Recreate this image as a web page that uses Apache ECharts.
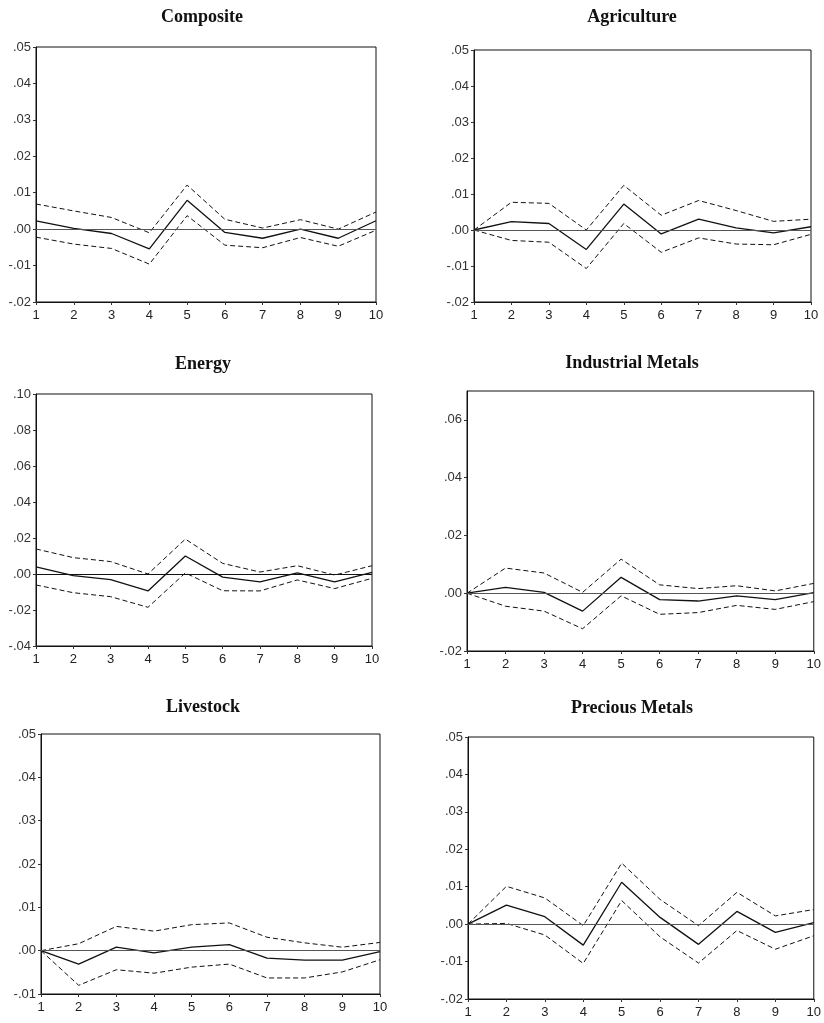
<!DOCTYPE html>
<html>
<head>
<meta charset="utf-8">
<script src="https://cdn.jsdelivr.net/npm/echarts@6/dist/echarts.min.js"></script>
<style>
  html, body { margin: 0; padding: 0; background: #fff; }
  #chart { width: 824px; height: 1023px; }
</style>
</head>
<body>
<div id="chart"></div>
<script>
var periods = ['1', '2', '3', '4', '5', '6', '7', '8', '9', '10'];

var titles = ['Composite', 'Agriculture', 'Energy', 'Industrial Metals', 'Livestock', 'Precious Metals'];

// impulse response (solid) and +/- 2 s.e. bands (dashed)
var compositeMid = [0.0023, 0.0002, -0.0012, -0.0054, 0.0079, -0.0009, -0.0025, 0.0000, -0.0025, 0.0023];
var compositeUp  = [0.0069, 0.0050, 0.0032, -0.0010, 0.0121, 0.0027, 0.0003, 0.0026, 0.0000, 0.0047];
var compositeLo  = [-0.0022, -0.0041, -0.0053, -0.0096, 0.0037, -0.0044, -0.0051, -0.0023, -0.0047, -0.0003];

var agricultureMid = [0.0000, 0.0023, 0.0018, -0.0054, 0.0072, -0.0011, 0.0030, 0.0006, -0.0008, 0.0009];
var agricultureUp  = [0.0000, 0.0077, 0.0074, 0.0000, 0.0124, 0.0041, 0.0082, 0.0054, 0.0024, 0.0030];
var agricultureLo  = [0.0000, -0.0029, -0.0034, -0.0107, 0.0018, -0.0062, -0.0022, -0.0039, -0.0041, -0.0012];

var energyMid = [0.0039, -0.0009, -0.0031, -0.0094, 0.0100, -0.0017, -0.0044, 0.0006, -0.0044, 0.0009];
var energyUp  = [0.0139, 0.0091, 0.0069, 0.0000, 0.0194, 0.0059, 0.0011, 0.0046, -0.0006, 0.0046];
var energyLo  = [-0.0061, -0.0104, -0.0126, -0.0185, 0.0006, -0.0093, -0.0094, -0.0033, -0.0081, -0.0024];

var indMetalsMid = [0.0000, 0.0020, 0.0003, -0.0062, 0.0055, -0.0022, -0.0027, -0.0009, -0.0022, 0.0002];
var indMetalsUp  = [0.0000, 0.0087, 0.0070, 0.0003, 0.0118, 0.0029, 0.0016, 0.0026, 0.0008, 0.0034];
var indMetalsLo  = [0.0000, -0.0045, -0.0062, -0.0123, -0.0009, -0.0073, -0.0067, -0.0042, -0.0056, -0.0029];

var livestockMid = [0.0000, -0.0031, 0.0008, -0.0005, 0.0008, 0.0014, -0.0017, -0.0022, -0.0022, -0.0002];
var livestockUp  = [0.0000, 0.0016, 0.0056, 0.0045, 0.0060, 0.0064, 0.0031, 0.0018, 0.0008, 0.0019];
var livestockLo  = [0.0000, -0.0080, -0.0044, -0.0052, -0.0038, -0.0031, -0.0063, -0.0063, -0.0049, -0.0021];

var preciousMid = [0.0000, 0.0051, 0.0020, -0.0056, 0.0112, 0.0018, -0.0054, 0.0034, -0.0022, 0.0004];
var preciousUp  = [0.0000, 0.0101, 0.0070, -0.0004, 0.0163, 0.0066, -0.0004, 0.0085, 0.0022, 0.0039];
var preciousLo  = [0.0000, 0.0002, -0.0029, -0.0105, 0.0063, -0.0034, -0.0104, -0.0017, -0.0067, -0.0031];

// y axis ranges: [min, max, interval]
var yRanges = [
  [-0.02, 0.05, 0.01],
  [-0.02, 0.05, 0.01],
  [-0.04, 0.10, 0.02],
  [-0.02, 0.07, 0.02],
  [-0.01, 0.05, 0.01],
  [-0.02, 0.05, 0.01]
];

var panels = [
  [compositeMid, compositeUp, compositeLo],
  [agricultureMid, agricultureUp, agricultureLo],
  [energyMid, energyUp, energyLo],
  [indMetalsMid, indMetalsUp, indMetalsLo],
  [livestockMid, livestockUp, livestockLo],
  [preciousMid, preciousUp, preciousLo]
];

// layout of each panel (px)
var boxes = [
  {left: 36,  top: 47,  width: 340, height: 255, tx: 197, ty: 3},
  {left: 474, top: 50,  width: 337, height: 252, tx: 627, ty: 3},
  {left: 36,  top: 394, width: 336, height: 252, tx: 198, ty: 350},
  {left: 467, top: 391, width: 347, height: 260, tx: 627, ty: 349},
  {left: 41,  top: 734, width: 339, height: 260, tx: 198, ty: 693},
  {left: 468, top: 737, width: 349, height: 262, tx: 627, ty: 694}
];

function fmt(v) {
  var s = Math.abs(v).toFixed(2).replace(/^0/, '');
  return (v < -1e-9 ? '-' : '') + s;
}

var chart = echarts.init(document.getElementById('chart'), null, {renderer: 'canvas'});

var grids = [], xAxes = [], yAxes = [], series = [], titleList = [];

for (var i = 0; i < 6; i++) {
  var b = boxes[i];
  grids.push({
    left: b.left, top: b.top, width: b.width, height: b.height,
    show: true, borderColor: '#111', borderWidth: 1, backgroundColor: '#fff'
  });
  titleList.push({
    text: titles[i], left: b.tx, top: b.ty, textAlign: 'center',
    textStyle: {fontFamily: 'Liberation Serif', fontWeight: 'bold', fontSize: 18, color: '#111'}
  });
  xAxes.push({
    gridIndex: i, type: 'category', data: periods, boundaryGap: false,
    axisLine: {onZero: false, lineStyle: {color: '#111', width: 1}},
    axisTick: {show: true, length: 3, lineStyle: {color: '#333'}},
    axisLabel: {fontFamily: 'Liberation Sans', fontSize: 13, color: '#222', margin: 7}
  });
  yAxes.push({
    gridIndex: i, type: 'value',
    min: yRanges[i][0], max: yRanges[i][1], interval: yRanges[i][2],
    splitLine: {show: false},
    axisLine: {show: true, lineStyle: {color: '#111', width: 1}},
    axisTick: {show: true, length: 3, lineStyle: {color: '#333'}},
    axisLabel: {fontFamily: 'Liberation Sans', fontSize: 13, color: '#333', margin: 5,
      showMaxLabel: i !== 3, formatter: fmt}
  });
  series.push({
    type: 'line', xAxisIndex: i, yAxisIndex: i, data: panels[i][0],
    symbol: 'none', lineStyle: {color: '#111', width: 1.3}, z: 3,
    markLine: {
      silent: true, symbol: 'none', label: {show: false},
      lineStyle: {color: i === 2 ? '#111' : '#555', width: 1, type: 'solid'},
      data: [{yAxis: 0}]
    }
  });
  series.push({
    type: 'line', xAxisIndex: i, yAxisIndex: i, data: panels[i][1],
    symbol: 'none', lineStyle: {color: '#111', width: 1, type: [5, 3]}
  });
  series.push({
    type: 'line', xAxisIndex: i, yAxisIndex: i, data: panels[i][2],
    symbol: 'none', lineStyle: {color: '#111', width: 1, type: [5, 3]}
  });
}

chart.setOption({
  animation: false,
  backgroundColor: '#fff',
  title: titleList,
  grid: grids,
  xAxis: xAxes,
  yAxis: yAxes,
  series: series
});
</script>
</body>
</html>
